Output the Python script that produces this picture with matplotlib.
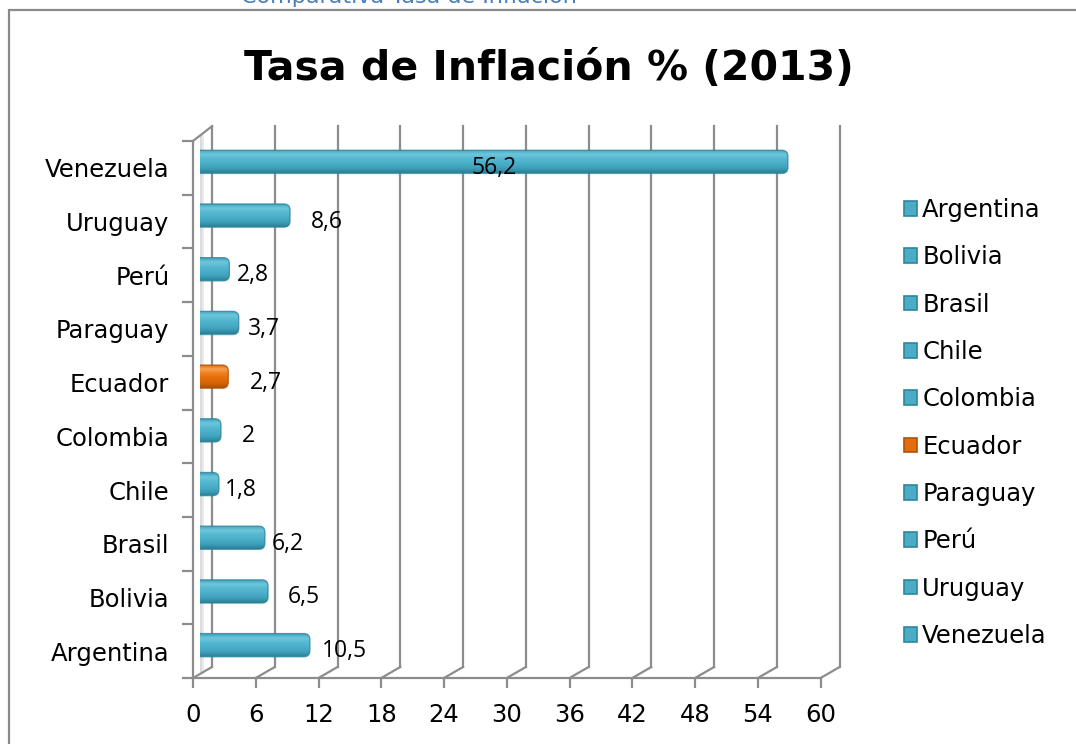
import matplotlib
matplotlib.use('Agg')
import matplotlib.pyplot as plt
import matplotlib.transforms as mtransforms
from matplotlib.lines import Line2D
from matplotlib.patches import Patch, Rectangle, FancyBboxPatch
from matplotlib.colors import LinearSegmentedColormap
import numpy as np

# Datos (Tasa de inflación 2013, %)
paises = ['Argentina', 'Bolivia', 'Brasil', 'Chile', 'Colombia',
          'Ecuador', 'Paraguay', 'Perú', 'Uruguay', 'Venezuela']
inflacion = [10.5, 6.5, 6.2, 1.8, 2.0, 2.7, 3.7, 2.8, 8.6, 56.2]
etiquetas = ['10,5', '6,5', '6,2', '1,8', '2', '2,7', '3,7', '2,8', '8,6', '56,2']
destacado = 'Ecuador'
xticks = list(range(0, 61, 6))

# separacion de cada etiqueta respecto al final de la barra (px), como en el original
gap_px = [12, 20, 7, 6, 21, 22, 9, 8, 21, 0]

AZUL, AZUL_OSC = '#4BACC6', '#2C869E'
NAR, NAR_OSC = '#E46C0A', '#B05306'
GRIS = '#8C8C8C'

cmap_azul = LinearSegmentedColormap.from_list(
    'az', ['#2A7F96', '#3E9FB9', '#4BAEC8', '#55B8D0', '#6CC6DC', '#3F9DB6'])
cmap_nar = LinearSegmentedColormap.from_list(
    'na', ['#A84F05', '#D4650A', '#E46C0A', '#EE7D1C', '#F8A04E', '#D06208'])

W, H = 1076, 744
fig = plt.figure(figsize=(W / 100, H / 100), dpi=100)
fig.patch.set_facecolor('white')

# marco del grafico
fig.add_artist(Rectangle((9 / W, -0.02), 1.1, 1 - 10 / H + 0.02, transform=fig.transFigure,
                         fill=False, ec='#8A8A8A', lw=1.6))

# texto cortado arriba (titulo del documento)
fig.text(241 / W, 1 - 3 / H, 'Comparativa Tasa de Inflación', color='#4A7EBB',
         fontsize=16, va='baseline', ha='left', family='DejaVu Sans')

fig.text(549 / W, 1 - 69 / H, 'Tasa de Inflación % (2013)', ha='center', va='center',
         fontsize=29.5, fontweight='bold', family='DejaVu Sans')

# plano de las barras
x0, x1 = 200, 827.6
y_top, y_bot = 135, 672
rect = [x0 / W, (H - y_bot) / H, (x1 - x0) / W, (y_bot - y_top) / H]
back_d = (12, 5)
front_d = (-7, -6)
px_x = (x1 - x0) / 60.0
px_y = (y_bot - y_top) / 10.0


def shifted(r, d):
    return [r[0] + d[0] / W, r[1] + d[1] / H, r[2], r[3]]


ax_back = fig.add_axes(shifted(rect, back_d), zorder=0)
ax_front = fig.add_axes(shifted(rect, front_d), zorder=1)
ax = fig.add_axes(rect, zorder=2)

y = np.arange(len(paises))
for a in (ax_back, ax_front, ax):
    a.set_xlim(0, 60)
    a.set_ylim(-0.5, len(paises) - 0.5)
    a.patch.set_alpha(0)

# pared del fondo
for s in ax_back.spines.values():
    s.set_visible(False)
ax_back.set_xticks([])
ax_back.set_yticks([])
for xv in xticks:
    ax_back.plot([xv, xv], [-0.5, 9.57], color=GRIS, lw=1.6, clip_on=False)
# sombra de la pared lateral
for k, al in zip([-0.9, -0.6, -0.35], [0.10, 0.14, 0.18]):
    ax.axvspan(k, k + 0.75, color='#8A8A8A', alpha=al, lw=0, zorder=0)

# eje frontal: ticks y etiquetas
for name, s in ax_front.spines.items():
    if name in ('left', 'bottom'):
        s.set_color(GRIS)
        s.set_linewidth(1.6)
    else:
        s.set_visible(False)
ax_front.set_xticks(xticks)
ax_front.set_xticklabels([str(v) for v in xticks])
ax_front.tick_params(axis='x', length=7, width=1.6, color=GRIS, pad=11, labelsize=17.5)
ax_front.set_yticks(np.arange(-0.5, len(paises), 1.0))
ax_front.set_yticklabels([])
ax_front.tick_params(axis='y', which='major', length=8, width=1.6, color=GRIS)
ax_front.set_yticks(y, minor=True)
ax_front.set_yticklabels(paises, minor=True)
ax_front.tick_params(axis='y', which='minor', length=0, pad=17, labelsize=17.5)

# lineas oblicuas entre frente y fondo
fig.canvas.draw()
tb = ax_back.transData
tf = ax_front.transData
for xv in xticks:
    p1 = tb.transform((xv, -0.5))
    p2 = tf.transform((xv, -0.5))
    fig.add_artist(Line2D([p1[0], p2[0]], [p1[1], p2[1]], color=GRIS, lw=1.6,
                          transform=mtransforms.IdentityTransform()))
p1 = tb.transform((0, 9.57))
p2 = tf.transform((0, 9.5))
fig.add_artist(Line2D([p1[0], p2[0]], [p1[1], p2[1]], color=GRIS, lw=1.6,
                      transform=mtransforms.IdentityTransform()))

# barras (geometria desde barh, relleno con degradado y extremo redondeado)
ax.axis('off')
cols = [NAR if p == destacado else AZUL for p in paises]
dark = [NAR_OSC if p == destacado else AZUL_OSC for p in paises]
cmaps = [cmap_nar if p == destacado else cmap_azul for p in paises]
h = 0.43
bars = ax.barh(y, inflacion, height=h, color=cols, alpha=0, zorder=3)
r_px = 6
rx = r_px / px_x
ry = r_px / px_y
grad = np.linspace(0, 1, 64).reshape(-1, 1)
for b, cm, d in zip(bars, cmaps, dark):
    bx, by = b.get_x(), b.get_y()
    bw, bh = b.get_width(), b.get_height()
    shape = FancyBboxPatch((bx - 1.0, by), bw + 1.0, bh,
                           boxstyle=f'round,pad=0,rounding_size={rx}',
                           mutation_aspect=ry / rx, fc='none', ec='none',
                           transform=ax.transData)
    ax.add_patch(shape)
    im = ax.imshow(grad, cmap=cm, aspect='auto', origin='lower',
                   extent=(bx, bx + bw, by, by + bh), zorder=3, interpolation='bilinear')
    im.set_clip_path(shape)
    edge = FancyBboxPatch((bx - 1.0, by), bw + 1.0, bh,
                          boxstyle=f'round,pad=0,rounding_size={rx}',
                          mutation_aspect=ry / rx, fc='none', ec=d, lw=1.0,
                          alpha=0.8, zorder=4)
    edge.set_clip_box(mtransforms.TransformedBbox(
        mtransforms.Bbox([[bx, -1], [61, 11]]), ax.transData))
    ax.add_patch(edge)
ax.set_xlim(0, 60)
ax.set_ylim(-0.5, len(paises) - 0.5)

# etiquetas de datos
for yi, v, lab, g in zip(y, inflacion, etiquetas, gap_px):
    if v > 30:
        tr = mtransforms.offset_copy(ax.transData, fig, x=0, y=-6, units='dots')
        ax.text(v / 2, yi, lab, ha='center', va='center', fontsize=16.5,
                family='Open Sans', transform=tr, zorder=5)
    else:
        tr = mtransforms.offset_copy(ax.transData, fig, x=g, y=-6, units='dots')
        ax.text(v, yi, lab, ha='left', va='center', fontsize=16.5,
                family='Open Sans', transform=tr, zorder=5)

# leyenda
handles = [Patch(facecolor=c, edgecolor=d, lw=1.2) for c, d in zip(cols, dark)]
fig.legend(handles, paises, loc='upper left', bbox_to_anchor=(904 / W, 1 - 198 / H),
           frameon=False, fontsize=17.5, handlelength=0.55, handleheight=0.55,
           handletextpad=0.2, labelspacing=0.96, borderaxespad=0, borderpad=0)

fig.savefig('out.png', dpi=100)
